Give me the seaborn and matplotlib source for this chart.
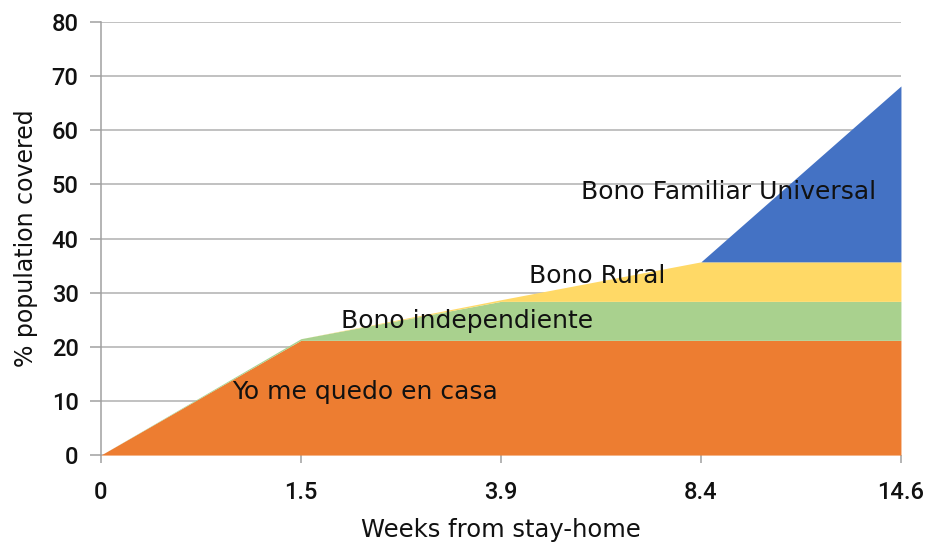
import numpy as np
import matplotlib
matplotlib.use("Agg")
import matplotlib.pyplot as plt
import seaborn as sns

# --- Data ---
weeks = ["0", "1.5", "3.9", "8.4", "14.6"]
yo_me_quedo = [0, 21.2, 21.2, 21.2, 21.2]
bono_indep = [0, 0.3, 7.2, 7.2, 7.2]
bono_rural = [0, 0, 0.3, 7.3, 7.3]
bono_familiar = [0, 0, 0, 0, 32.5]
series_names = ["Yo me quedo en casa", "Bono independiente", "Bono Rural",
                "Bono Familiar Universal"]
colors = ["#ED7D31", "#A9D18E", "#FFD966", "#4472C4"]

sns.set_theme(style="white")
plt.rcParams["font.family"] = ["DejaVu Sans"]

fig = plt.figure(figsize=(9.25, 5.45), dpi=100)
ax = fig.add_axes([0.109, 0.165, 0.865, 0.7945])

x = np.arange(len(weeks))
ax.stackplot(x, yo_me_quedo, bono_indep, bono_rural, bono_familiar,
             colors=colors, linewidth=0, zorder=3)

# labels placed inside each band
label_pos = [(1.32, 11.6), (1.83, 24.8), (2.48, 33.0), (3.14, 48.6)]
for name, (lx, ly) in zip(series_names, label_pos):
    ax.text(lx, ly, name, ha="center", va="center", fontsize=18,
            color="#111111", zorder=5)

ax.set_xlim(0, len(weeks) - 1)
ax.set_ylim(0, 80)
ax.set_xticks(x)
ax.set_xticklabels(weeks)
ax.set_yticks(np.arange(0, 81, 10))
ax.yaxis.grid(True, color="#b0b0b0", linewidth=1.1, zorder=1)
ax.set_axisbelow(True)

for side in ["top", "right", "bottom"]:
    ax.spines[side].set_visible(False)
ax.spines["left"].set_color("#a0a0a0")
ax.spines["left"].set_linewidth(1.1)

ax.tick_params(axis="y", length=8, color="#a0a0a0", width=1.1,
               labelcolor="#111111", pad=8, left=True)
ax.tick_params(axis="x", length=6, color="#a0a0a0", width=1.1,
               labelcolor="#111111", pad=13, bottom=True)
for lab in ax.get_xticklabels() + ax.get_yticklabels():
    lab.set_fontfamily(["Roboto", "DejaVu Sans"])
    lab.set_fontweight("medium")
    lab.set_fontsize(17)

ax.set_xlabel("Weeks from stay-home", fontsize=17.5, color="#111111", labelpad=10)
ax.set_ylabel("% population covered", fontsize=17, color="#111111", labelpad=10)

fig.savefig("out.png", dpi=100)
